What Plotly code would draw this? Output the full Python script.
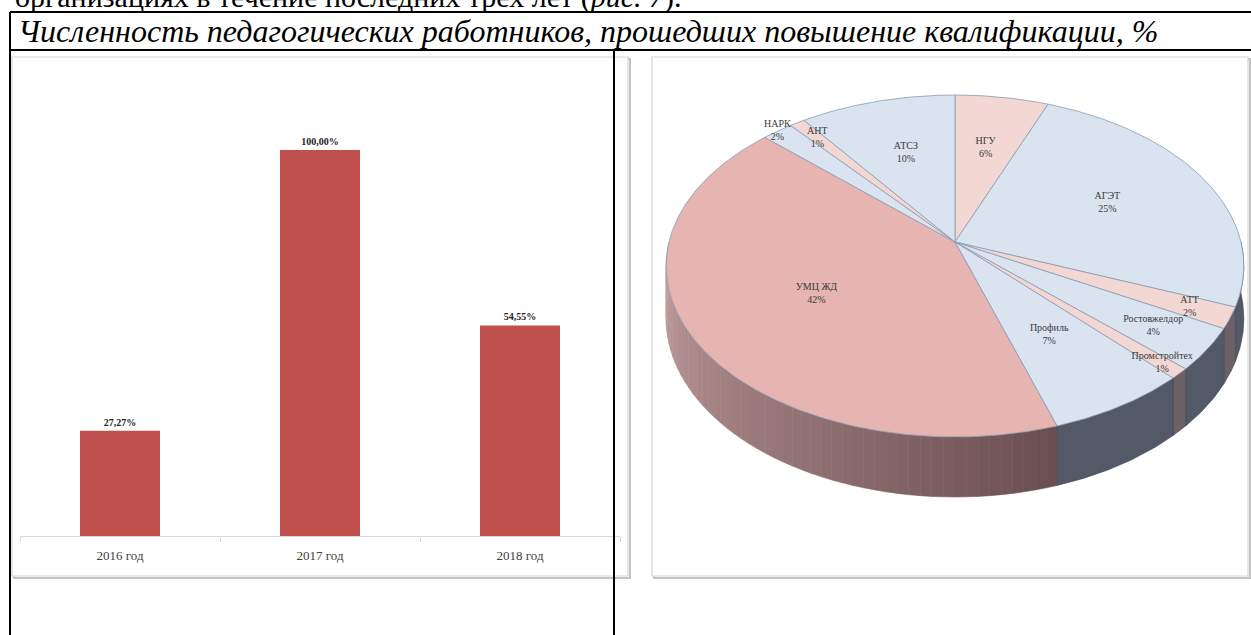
import numpy as np
import plotly.graph_objects as go

W, H = 1251, 635

# ---------------- data ----------------
bar_categories = ["2016 год", "2017 год", "2018 год"]
bar_values = [27.27, 100.00, 54.55]

pie_labels = ["НГУ", "АГЭТ", "АТТ", "Ростовжелдор", "Промстройтех",
              "Профиль", "УМЦ ЖД", "НАРК", "АНТ", "АТСЗ"]
pie_values = [6, 25, 2, 4, 1, 7, 42, 2, 1, 10]

title_text = "Численность педагогических работников, прошедших повышение квалификации, %"
top_text = "организациях в течение последних трех лет (<i>рис. 7</i>)."

# ---------------- styles ----------------
SERIF = "Liberation Serif"
BAR_COLOR = "#c0504d"
BLUE_TOP = "#dae3f0"
PINK_TOP = "#f2d7d2"
UMC_TOP = "#e6b4b1"
slice_tops = [PINK_TOP, BLUE_TOP, PINK_TOP, BLUE_TOP, PINK_TOP,
              BLUE_TOP, UMC_TOP, BLUE_TOP, PINK_TOP, BLUE_TOP]
label_r = [0.62, 0.6, 0.86, 0.8, 0.93, 0.6, 0.55, 1.0, 0.86, 0.6]

# pie projection (pixel space)
CX, CY, A, B, K, D = 955, 242, 286, 167.6, 0.1403, 51.6


def px(x):
    return x / W


def py(y):
    return 1 - y / H


def proj(theta_deg, r=1.0, drop=0.0):
    t = np.radians(theta_deg)
    X = r * np.sin(t)
    Y = -r * np.cos(t)
    w = 1 - K * Y
    return CX + A * X / w, CY + B * Y / w + drop / w


def mix(c1, c2, f):
    a = [int(c1[i:i + 2], 16) for i in (1, 3, 5)]
    b = [int(c2[i:i + 2], 16) for i in (1, 3, 5)]
    return "#%02x%02x%02x" % tuple(int(round(a[i] + (b[i] - a[i]) * f)) for i in range(3))


fig = go.Figure()

# ---------------- bar chart ----------------
bar_text = [f"{v:.2f}%".replace(".", ",") for v in bar_values]
fig.add_trace(go.Bar(
    x=bar_categories, y=bar_values, width=0.4,
    marker=dict(color=BAR_COLOR, line=dict(width=0)),
    text=bar_text, textposition="outside", cliponaxis=False,
    textfont=dict(family=SERIF, size=10, color="#222222", weight="bold"),
    xaxis="x", yaxis="y", showlegend=False, hoverinfo="skip",
))

# ---------------- 3D-like pie ----------------
total = float(sum(pie_values))
bounds = np.concatenate([[0], np.cumsum(pie_values)]) / total * 360.0

# sides (visible front half: 90..270 deg)
for i, v in enumerate(pie_values):
    a0, a1 = bounds[i], bounds[i + 1]
    s0, s1 = max(a0, 90.0), min(a1, 270.0)
    if s1 <= s0:
        continue
    is_pink = slice_tops[i] != BLUE_TOP
    if slice_tops[i] == UMC_TOP:
        nstrip = max(2, int((s1 - s0) / 2))
    else:
        nstrip = 1
    edges = np.linspace(s0, s1, nstrip + 1)
    for j in range(nstrip):
        e0, e1 = edges[j], edges[j + 1]
        mid = 0.5 * (e0 + e1)
        if slice_tops[i] == UMC_TOP:
            f = (mid - 162.0) / (270.0 - 162.0)
            col = mix("#6a4e4f", "#c7a2a2", min(max(f, 0), 1))
            lw, lc = 0.6, col
        elif is_pink:
            col = "#6c6166"
            lw, lc = 0.6, "#3e4249"
        else:
            col = "#525967"
            lw, lc = 0.6, "#3e4249"
        ang = np.linspace(e0, e1, max(3, int((e1 - e0) * 2)))
        xt, yt = proj(ang)
        xb, yb = proj(ang[::-1], drop=D)
        xs = np.concatenate([xt, xb, xt[:1]])
        ys = np.concatenate([yt, yb, yt[:1]])
        fig.add_trace(go.Scatter(
            x=xs, y=ys, mode="lines", fill="toself", fillcolor=col,
            line=dict(color=lc, width=lw), xaxis="x2", yaxis="y2",
            showlegend=False, hoverinfo="skip",
        ))

# tops
for i, v in enumerate(pie_values):
    a0, a1 = bounds[i], bounds[i + 1]
    ang = np.linspace(a0, a1, max(3, int((a1 - a0) * 2)))
    xa, ya = proj(ang)
    xs = np.concatenate([[CX], xa, [CX]])
    ys = np.concatenate([[CY], ya, [CY]])
    fig.add_trace(go.Scatter(
        x=xs, y=ys, mode="lines", fill="toself", fillcolor=slice_tops[i],
        line=dict(color="#8a9ab4", width=0.8), xaxis="x2", yaxis="y2",
        showlegend=False, hoverinfo="skip",
    ))

# labels
lx, ly, lt = [], [], []
for i, v in enumerate(pie_values):
    mid = 0.5 * (bounds[i] + bounds[i + 1])
    x, y = proj(mid, r=label_r[i])
    lx.append(x)
    ly.append(y)
    lt.append(f"{pie_labels[i]}<br>{v}%")
fig.add_trace(go.Scatter(
    x=lx, y=ly, mode="text", text=lt, textposition="middle center",
    textfont=dict(family=SERIF, size=10, color="#3a3a3a"),
    xaxis="x2", yaxis="y2", showlegend=False, hoverinfo="skip",
))

# ---------------- frame shapes ----------------
shapes = []


def rect(x0, y0, x1, y1, color, width, fill=None, layer="below"):
    shapes.append(dict(type="rect", xref="paper", yref="paper",
                       x0=px(x0), x1=px(x1), y0=py(y1), y1=py(y0),
                       line=dict(color=color, width=width),
                       fillcolor=fill if fill else "rgba(0,0,0,0)", layer=layer))


def line(x0, y0, x1, y1, color="black", width=2):
    shapes.append(dict(type="line", xref="paper", yref="paper",
                       x0=px(x0), x1=px(x1), y0=py(y0), y1=py(y1),
                       line=dict(color=color, width=width), layer="above"))


# chart image boxes with faint shadow
rect(14, 59, 630, 578, "#c4c4c4", 2)
rect(12, 57, 628, 576, "#d6d6d6", 1.2, fill="white")
rect(654, 59, 1250, 578, "#c4c4c4", 2)
rect(652, 57, 1248, 576, "#d6d6d6", 1.2, fill="white")

# table lines
line(10, 12, W, 12)
line(10, 50, W, 50)
line(10, 12, 10, H)
line(614, 50, 614, H)

annotations = [
    dict(text=f"<i>{title_text}</i>", xref="paper", yref="paper", x=px(16), y=py(31),
         xanchor="left", yanchor="middle", showarrow=False,
         font=dict(family=SERIF, size=32, color="black")),
    dict(text=top_text, xref="paper", yref="paper", x=px(13), y=py(-3),
         xanchor="left", yanchor="middle", showarrow=False,
         font=dict(family=SERIF, size=30, color="black")),
]

# bar axes: baseline at y=536px, full bar (100) top at 150px
base_px, top_px, full_px = 536, 57, 150
yr_top = 100.0 * (base_px - top_px) / (base_px - full_px)

fig.update_layout(
    width=W, height=H,
    margin=dict(l=0, r=0, t=0, b=0),
    paper_bgcolor="white", plot_bgcolor="rgba(0,0,0,0)",
    shapes=shapes, annotations=annotations,
    xaxis=dict(domain=[px(20), px(620)], range=[-0.5, 2.5],
               showline=True, linecolor="#d9d9d9", linewidth=1,
               ticks="outside", tickson="boundaries", ticklen=5,
               tickcolor="#d9d9d9", showgrid=False, zeroline=False,
               tickfont=dict(family=SERIF, size=13, color="#404040"),
               ticklabelstandoff=7, fixedrange=True),
    yaxis=dict(domain=[py(base_px), py(top_px)], range=[0, yr_top],
               visible=False, fixedrange=True),
    xaxis2=dict(domain=[0, 1], range=[0, W], visible=False,
                anchor="y2", fixedrange=True),
    yaxis2=dict(domain=[0, 1], range=[H, 0], visible=False,
                anchor="x2", fixedrange=True),
)

fig.write_html(
    "out.html",
    config={"displayModeBar": False},
    post_script="document.body.style.margin='0px';document.body.style.overflow='hidden';",
)
